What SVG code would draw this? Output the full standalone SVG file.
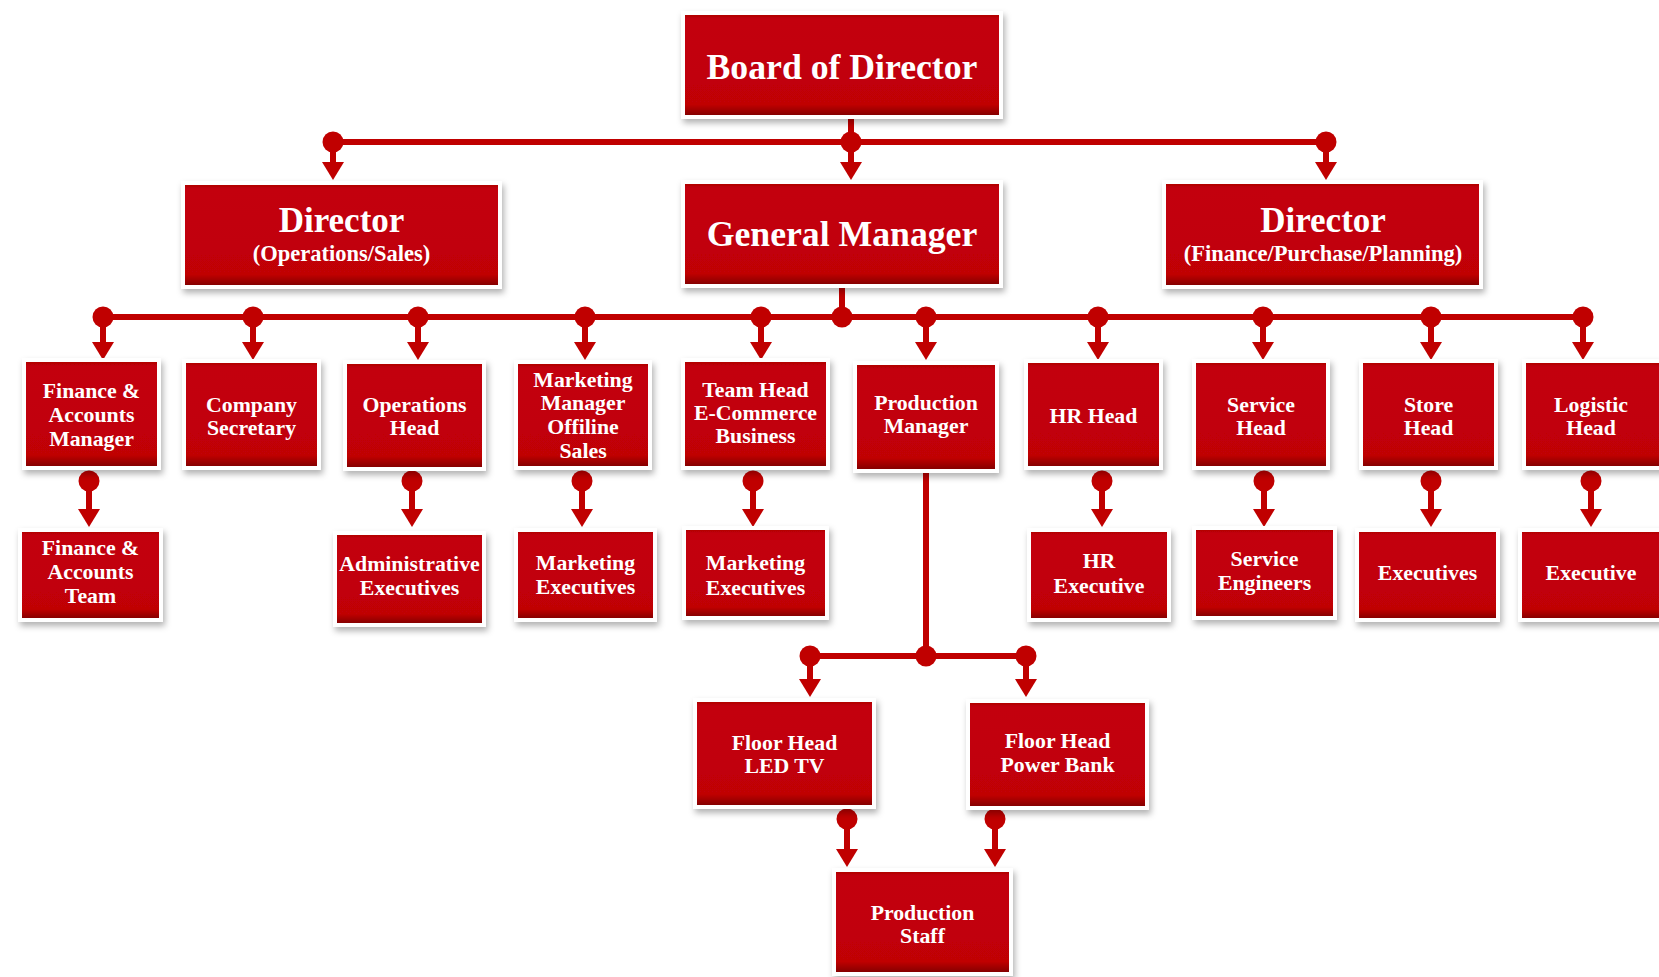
<svg xmlns="http://www.w3.org/2000/svg" width="1659" height="977" viewBox="0 0 1659 977">
<style>
.box{fill:url(#red);stroke:#fff;stroke-width:4;filter:url(#sh)}
text{font-family:"Liberation Serif","Times New Roman",serif;font-weight:bold;fill:#fff;text-anchor:middle}
.big{font-size:35.7px}
.dir{font-size:35px}
.sub{font-size:22.5px}
.n{font-size:21.8px}
.conn path{fill:none;stroke:#c00000;stroke-width:6}
.conn .br{marker-start:url(#dot);marker-end:url(#arr)}
.conn circle{fill:#c00000}
</style>
<defs>
<linearGradient id="red" x1="0" y1="0" x2="0" y2="1">
<stop offset="0" stop-color="#a80000"/>
<stop offset="0.06" stop-color="#c3000a"/>
<stop offset="0.88" stop-color="#c00006"/>
<stop offset="0.95" stop-color="#980000"/>
<stop offset="1" stop-color="#7a0000"/>
</linearGradient>
<filter id="sh" x="-10%" y="-10%" width="125%" height="130%">
<feDropShadow dx="2" dy="4" stdDeviation="3" flood-color="#000" flood-opacity="0.3"/>
</filter>
<marker id="arr" markerUnits="userSpaceOnUse" markerWidth="18" markerHeight="22" refX="0" refY="11" orient="auto" viewBox="0 0 18 22">
<path d="M0,0 L18,11 L0,22 z" fill="#c00000"/>
</marker>
<marker id="dot" markerUnits="userSpaceOnUse" markerWidth="22" markerHeight="22" refX="11" refY="11" viewBox="0 0 22 22">
<circle cx="11" cy="11" r="10.5" fill="#c00000"/>
</marker>
</defs>
<rect width="1659" height="977" fill="#fff"/>

<g id="connectors" class="conn">
<path d="M851,117 V142"/>
<path d="M333,142 H1326"/>
<path class="br" d="M333,142 V162"/>
<path class="br" d="M851,142 V162"/>
<path class="br" d="M1326,142 V162"/>
<path d="M842,286 V317"/>
<path d="M103,317 H1583"/>
<circle cx="842" cy="317" r="10.5"/>
<path class="br" d="M103,317 V342"/>
<path class="br" d="M253,317 V342"/>
<path class="br" d="M418,317 V342"/>
<path class="br" d="M585,317 V342"/>
<path class="br" d="M761,317 V342"/>
<path class="br" d="M926,317 V342"/>
<path class="br" d="M1098,317 V342"/>
<path class="br" d="M1263,317 V342"/>
<path class="br" d="M1431,317 V342"/>
<path class="br" d="M1583,317 V342"/>
<path class="br" d="M89,481 V509"/>
<path class="br" d="M412,481 V509"/>
<path class="br" d="M582,481 V509"/>
<path class="br" d="M753,481 V509"/>
<path class="br" d="M1102,481 V509"/>
<path class="br" d="M1264,481 V509"/>
<path class="br" d="M1431,481 V509"/>
<path class="br" d="M1591,481 V509"/>
<path d="M926,471 V656"/>
<path d="M810,656 H1026"/>
<circle cx="926" cy="656" r="10.5"/>
<path class="br" d="M810,656 V679"/>
<path class="br" d="M1026,656 V679"/>
<path class="br" d="M847,819 V849"/>
<path class="br" d="M995,819 V849"/>
</g>

<g id="board"><rect class="box" x="683" y="13" width="318" height="104"/><text class="big" x="842" y="79">Board of Director</text></g>
<g id="director-ops"><rect class="box" x="183" y="183" width="317" height="104"/><text class="dir" x="341.5" y="232">Director</text><text class="sub" x="341.5" y="261">(Operations/Sales)</text></g>
<g id="general-manager"><rect class="box" x="683" y="182" width="318" height="104"/><text class="big" x="842" y="246">General Manager</text></g>
<g id="director-fin"><rect class="box" x="1164" y="182" width="317" height="105"/><text class="dir" x="1323" y="232">Director</text><text class="sub" x="1323" y="261">(Finance/Purchase/Planning)</text></g>

<g id="fin-acc-mgr"><rect class="box" x="24" y="360" width="135" height="108"/><text class="n" x="91.5"><tspan x="91.5" y="398">Finance &amp;</tspan><tspan x="91.5" y="422">Accounts</tspan><tspan x="91.5" y="446">Manager</tspan></text></g>
<g id="company-secretary"><rect class="box" x="184" y="361" width="135" height="107"/><text class="n"><tspan x="251.5" y="412">Company</tspan><tspan x="251.5" y="435">Secretary</tspan></text></g>
<g id="operations-head"><rect class="box" x="345" y="362" width="139" height="107"/><text class="n"><tspan x="414.5" y="412">Operations</tspan><tspan x="414.5" y="435">Head</tspan></text></g>
<g id="marketing-manager"><rect class="box" x="516" y="362" width="134" height="106"/><text class="n"><tspan x="583" y="387">Marketing</tspan><tspan x="583" y="410">Manager</tspan><tspan x="583" y="434">Offiline</tspan><tspan x="583" y="458">Sales</tspan></text></g>
<g id="team-head"><rect class="box" x="683" y="360" width="145" height="108"/><text class="n"><tspan x="755.5" y="397">Team Head</tspan><tspan x="755.5" y="420">E-Commerce</tspan><tspan x="755.5" y="443">Business</tspan></text></g>
<g id="production-manager"><rect class="box" x="855" y="363" width="142" height="108"/><text class="n"><tspan x="926" y="410">Production</tspan><tspan x="926" y="433">Manager</tspan></text></g>
<g id="hr-head"><rect class="box" x="1026" y="361" width="135" height="107"/><text class="n" x="1093.5" y="423">HR Head</text></g>
<g id="service-head"><rect class="box" x="1194" y="361" width="134" height="107"/><text class="n"><tspan x="1261" y="412">Service</tspan><tspan x="1261" y="435">Head</tspan></text></g>
<g id="store-head"><rect class="box" x="1361" y="361" width="135" height="107"/><text class="n"><tspan x="1428.5" y="412">Store</tspan><tspan x="1428.5" y="435">Head</tspan></text></g>
<g id="logistic-head"><rect class="box" x="1524" y="361" width="140" height="107"/><text class="n"><tspan x="1591" y="412">Logistic</tspan><tspan x="1591" y="435">Head</tspan></text></g>

<g id="fin-acc-team"><rect class="box" x="20" y="530" width="141" height="90"/><text class="n"><tspan x="90.5" y="555">Finance &amp;</tspan><tspan x="90.5" y="579">Accounts</tspan><tspan x="90.5" y="603">Team</tspan></text></g>
<g id="admin-exec"><rect class="box" x="335" y="533" width="149" height="92"/><text class="n"><tspan x="409.5" y="571">Administrative</tspan><tspan x="409.5" y="595">Executives</tspan></text></g>
<g id="marketing-exec-1"><rect class="box" x="516" y="530" width="139" height="90"/><text class="n"><tspan x="585.5" y="570">Marketing</tspan><tspan x="585.5" y="594">Executives</tspan></text></g>
<g id="marketing-exec-2"><rect class="box" x="684" y="528" width="143" height="90"/><text class="n"><tspan x="755.5" y="570">Marketing</tspan><tspan x="755.5" y="595">Executives</tspan></text></g>
<g id="hr-exec"><rect class="box" x="1029" y="530" width="140" height="90"/><text class="n"><tspan x="1099" y="568">HR</tspan><tspan x="1099" y="593">Executive</tspan></text></g>
<g id="service-eng"><rect class="box" x="1194" y="528" width="141" height="90"/><text class="n"><tspan x="1264.5" y="566">Service</tspan><tspan x="1264.5" y="590">Engineers</tspan></text></g>
<g id="store-exec"><rect class="box" x="1357" y="530" width="141" height="90"/><text class="n" x="1427.5" y="580">Executives</text></g>
<g id="logistic-exec"><rect class="box" x="1520" y="530" width="142" height="90"/><text class="n" x="1591" y="580">Executive</text></g>

<g id="floor-led"><rect class="box" x="695" y="700" width="179" height="107"/><text class="n"><tspan x="784.5" y="750">Floor Head</tspan><tspan x="784.5" y="773">LED TV</tspan></text></g>
<g id="floor-power"><rect class="box" x="968" y="701" width="179" height="107"/><text class="n"><tspan x="1057.5" y="748">Floor Head</tspan><tspan x="1057.5" y="772">Power Bank</tspan></text></g>
<g id="production-staff"><rect class="box" x="834" y="870" width="177" height="104"/><text class="n"><tspan x="922.5" y="920">Production</tspan><tspan x="922.5" y="943">Staff</tspan></text></g>
</svg>
